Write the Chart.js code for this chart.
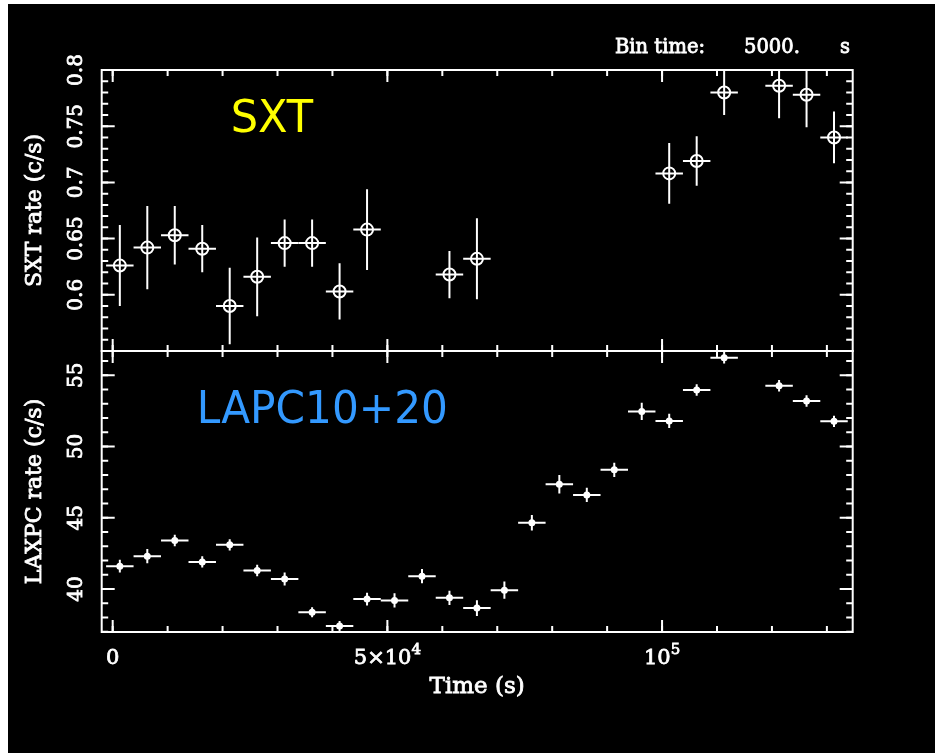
<!DOCTYPE html>
<html>
<head>
<meta charset="utf-8">
<title>SXT / LAXPC light curve</title>
<script src="https://cdn.jsdelivr.net/npm/chart.js@4.4.1/dist/chart.umd.min.js"></script>
<style>
  html, body { margin: 0; padding: 0; background: #fff; }
  #frame { position: absolute; left: 8px; top: 4px; width: 927px; height: 749px; background: #000; }
  canvas { position: absolute; left: 0; top: 0; }
</style>
</head>
<body>
<div id="frame"></div>
<canvas id="sxt-chart" width="935" height="753"></canvas>
<canvas id="laxpc-chart" width="935" height="753"></canvas>
<script>
// 5000 s bins
const binWidth = 5000;

// SXT light curve (c/s)
const sxtTime = [1300, 6300, 11300, 16300, 21300, 26300, 31300, 36300, 41300, 46300,
                 61300, 66300, 101300, 106300, 111300, 121300, 126300, 131300];
const sxtRate = [0.626, 0.642, 0.653, 0.641, 0.590, 0.616, 0.646, 0.646, 0.603, 0.658,
                 0.618, 0.632, 0.708, 0.719, 0.780, 0.786, 0.778, 0.740];
const sxtErr  = [0.036, 0.037, 0.026, 0.021, 0.034, 0.035, 0.021, 0.021, 0.025, 0.036,
                 0.021, 0.036, 0.027, 0.022, 0.020, 0.029, 0.029, 0.023];

// LAXPC 10+20 light curve (c/s)
const laxpcTime = [1300, 6300, 11300, 16300, 21300, 26300, 31300, 36300, 41300, 46300,
                   51300, 56300, 61300, 66300, 71300, 76300, 81300, 86300, 91300, 96300,
                   101300, 106300, 111300, 121300, 126300, 131300];
const laxpcRate = [41.6, 42.3, 43.4, 41.9, 43.1, 41.3, 40.7, 38.36, 37.4, 39.29,
                   39.2, 40.9, 39.38, 38.66, 39.92, 44.65, 47.35, 46.6, 48.37, 52.47,
                   51.8, 53.97, 56.24, 54.27, 53.2, 51.77];
const laxpcErr  = [0.45, 0.5, 0.4, 0.4, 0.4, 0.4, 0.45, 0.35, 0.35, 0.45,
                   0.5, 0.5, 0.5, 0.55, 0.6, 0.55, 0.65, 0.5, 0.5, 0.6,
                   0.5, 0.4, 0.4, 0.4, 0.4, 0.4];

// axes
const timeRange = [-2000, 134700];
const timeMajorTicks = [0, 50000, 100000];
const timeTickLabels = [['0', ''], ['5\u00d710', '4'], ['10', '5']];
const sxtRange = [0.55, 0.8];
const sxtMajorTicks = [0.6, 0.65, 0.7, 0.75, 0.8];
const sxtTickLabels = ['0.6', '0.65', '0.7', '0.75', '0.8'];
const laxpcRange = [36.98, 56.71];
const laxpcMajorTicks = [40, 45, 50, 55];
const laxpcTickLabels = ['40', '45', '50', '55'];

function steps(from, to, step) {
  const out = [];
  for (let v = from; v <= to + step / 100; v += step) out.push(+v.toFixed(6));
  return out;
}

const timeMinorTicks = steps(0, 130000, 10000);
const sxtMinorTicks = steps(0.56, 0.79, 0.01);
const laxpcMinorTicks = steps(37, 56, 1);

const SERIF = '"DejaVu Serif", serif';

// text helper; serif labels get a thin outline so they read heavier
function drawText(ctx, text, x, y, size, o = {}) {
  ctx.save();
  ctx.translate(x, y);
  if (o.rotate) ctx.rotate(o.rotate);
  ctx.scale(o.sx || 1, 1);
  ctx.font = `${size}px ${o.family || SERIF}`;
  ctx.textAlign = o.align || 'center';
  ctx.textBaseline = o.baseline || 'alphabetic';
  ctx.fillStyle = o.color || '#fff';
  ctx.fillText(text, 0, 0);
  if (!o.family) {
    ctx.strokeStyle = ctx.fillStyle;
    ctx.lineWidth = 0.8;
    ctx.strokeText(text, 0, 0);
  }
  ctx.restore();
}

// error crosses: bin width horizontally, 1-sigma vertically
const errorBars = {
  id: 'errorBars',
  beforeDatasetsDraw(chart) {
    const { ctx, chartArea: a, scales: { x, y } } = chart;
    ctx.save();
    ctx.beginPath();
    ctx.rect(a.left, a.top, a.right - a.left, a.bottom - a.top);
    ctx.clip();
    chart.data.datasets.forEach(ds => {
      ctx.strokeStyle = '#fff';
      ctx.lineWidth = ds.errWidth;
      ds.data.forEach((p, i) => {
        const px = x.getPixelForValue(p.x);
        const py = y.getPixelForValue(p.y);
        ctx.beginPath();
        ctx.moveTo(x.getPixelForValue(p.x - binWidth / 2), py);
        ctx.lineTo(x.getPixelForValue(p.x + binWidth / 2), py);
        ctx.moveTo(px, y.getPixelForValue(p.y - ds.yErr[i]));
        ctx.lineTo(px, y.getPixelForValue(p.y + ds.yErr[i]));
        ctx.stroke();
      });
    });
    ctx.restore();
  }
};

// boxed frame with inward ticks on all four sides, plus labels
const pgAxes = {
  id: 'pgAxes',
  afterDraw(chart, args, opts) {
    const { ctx, chartArea: a, scales: { x, y } } = chart;
    ctx.save();
    ctx.strokeStyle = '#fff';
    ctx.lineWidth = 2;
    ctx.strokeRect(a.left, a.top, a.right - a.left, a.bottom - a.top);

    const xTick = (v, len) => {
      const px = x.getPixelForValue(v);
      ctx.beginPath();
      ctx.moveTo(px, a.top); ctx.lineTo(px, a.top + len);
      ctx.moveTo(px, a.bottom); ctx.lineTo(px, a.bottom - len);
      ctx.stroke();
    };
    const yTick = (v, len) => {
      const py = y.getPixelForValue(v);
      ctx.beginPath();
      ctx.moveTo(a.left, py); ctx.lineTo(a.left + len, py);
      ctx.moveTo(a.right, py); ctx.lineTo(a.right - len, py);
      ctx.stroke();
    };
    timeMinorTicks.forEach(v => xTick(v, 6));
    timeMajorTicks.forEach(v => xTick(v, 12));
    opts.yMinor.forEach(v => yTick(v, 6.5));
    opts.yMajor.forEach(v => yTick(v, 13));
    ctx.restore();

    // y tick labels, reading upwards
    opts.yMajor.forEach((v, i) => {
      drawText(ctx, opts.yLabels[i], 77, y.getPixelForValue(v), 20,
        { rotate: -Math.PI / 2, baseline: 'middle' });
    });
    drawText(ctx, opts.yTitle, 35, (a.top + a.bottom) / 2, 22,
      { rotate: -Math.PI / 2, baseline: 'middle' });

    if (opts.timeLabels) {
      timeMajorTicks.forEach((v, i) => {
        const [base, sup] = timeTickLabels[i];
        ctx.font = `21px ${SERIF}`;
        const wb = ctx.measureText(base).width;
        ctx.font = `15px ${SERIF}`;
        const ws = sup ? ctx.measureText(sup).width : 0;
        const left = x.getPixelForValue(v) - (wb + ws) / 2;
        drawText(ctx, base, left, a.bottom + 32, 21, { align: 'left' });
        if (sup) drawText(ctx, sup, left + wb, a.bottom + 22, 15, { align: 'left' });
      });
      drawText(ctx, 'Time (s)', (a.left + a.right) / 2, a.bottom + 61, 23);
    }

    if (opts.header) {
      drawText(ctx, 'Bin time:', 615, 53, 19.5, { align: 'left' });
      drawText(ctx, '5000.', 744, 53, 19.5, { align: 'left' });
      drawText(ctx, 's', 840, 53, 19.5, { align: 'left' });
    }

    const t = opts.tag;
    drawText(ctx, t.text, a.left + t.dx, a.top + t.dy, 44,
      { align: 'left', family: '"DejaVu Sans", sans-serif', color: t.color, sx: t.sx });
  }
};

function lightCurve(canvasId, s) {
  return new Chart(document.getElementById(canvasId), {
    type: 'scatter',
    data: {
      datasets: [{
        data: s.time.map((t, i) => ({ x: t, y: s.rate[i] })),
        yErr: s.err,
        errWidth: 2,
        pointStyle: 'circle',
        pointRadius: s.pointRadius,
        pointBorderWidth: 2,
        pointBorderColor: '#fff',
        pointBackgroundColor: s.fill
      }]
    },
    options: {
      responsive: false,
      animation: false,
      events: [],
      layout: { padding: s.padding },
      scales: {
        x: { type: 'linear', min: timeRange[0], max: timeRange[1], display: false },
        y: { type: 'linear', min: s.range[0], max: s.range[1], display: false }
      },
      plugins: {
        legend: { display: false },
        tooltip: { enabled: false },
        pgAxes: s.axes
      }
    },
    plugins: [errorBars, pgAxes]
  });
}

lightCurve('sxt-chart', {
  time: sxtTime, rate: sxtRate, err: sxtErr,
  range: sxtRange,
  pointRadius: 6, fill: 'rgba(0,0,0,0)',
  padding: { left: 101.7, top: 70, right: 82.3, bottom: 402 },
  axes: {
    yMajor: sxtMajorTicks, yMinor: sxtMinorTicks, yLabels: sxtTickLabels,
    yTitle: 'SXT rate (c/s)', timeLabels: false, header: true,
    tag: { text: 'SXT', color: '#ffff00', dx: 129, dy: 62, sx: 0.98 }
  }
});

lightCurve('laxpc-chart', {
  time: laxpcTime, rate: laxpcRate, err: laxpcErr,
  range: laxpcRange,
  pointRadius: 2.5, fill: '#fff',
  padding: { left: 101.7, top: 351, right: 82.3, bottom: 121 },
  axes: {
    yMajor: laxpcMajorTicks, yMinor: laxpcMinorTicks, yLabels: laxpcTickLabels,
    yTitle: 'LAXPC rate (c/s)', timeLabels: true, header: false,
    tag: { text: 'LAPC10+20', color: '#3399ff', dx: 95, dy: 72, sx: 0.96 }
  }
});
</script>
</body>
</html>
